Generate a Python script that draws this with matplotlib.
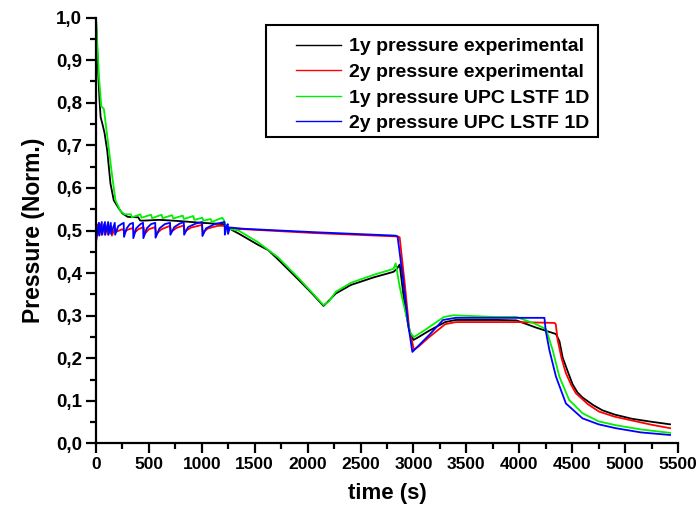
import matplotlib
matplotlib.use("Agg")
import matplotlib.pyplot as plt
from matplotlib.ticker import MultipleLocator, FuncFormatter
from matplotlib.patches import Rectangle

# ---- data ----
t_1y_exp = [0, 15, 35, 44, 59, 80, 106, 137, 168, 215, 250, 300, 400, 415, 430, 600, 800, 1000,
            1209, 1238, 1286, 1347, 1534, 1627, 1721, 1908, 2050, 2150, 2200, 2266, 2407, 2625,
            2812, 2843, 2870, 2890, 2920, 2960, 3000, 3050, 3150, 3300, 3400, 3800, 3973, 4160,
            4347, 4380, 4410, 4460, 4504, 4550, 4598, 4700, 4785, 4900, 5066, 5250, 5425]
p_1y_exp = [1.0, 0.90, 0.80, 0.766, 0.752, 0.73, 0.688, 0.610, 0.571, 0.552, 0.540, 0.532, 0.531,
            0.524, 0.523, 0.525, 0.522, 0.518, 0.515, 0.510, 0.501, 0.493, 0.466, 0.454, 0.432,
            0.386, 0.350, 0.323, 0.335, 0.352, 0.372, 0.390, 0.403, 0.410, 0.420, 0.380, 0.320,
            0.265, 0.243, 0.250, 0.265, 0.285, 0.290, 0.290, 0.289, 0.272, 0.257, 0.240, 0.202,
            0.168, 0.139, 0.120, 0.108, 0.090, 0.078, 0.068, 0.058, 0.051, 0.045]

t_2y_exp = [0, 12, 22, 27, 48, 53, 78, 83, 110, 115, 145, 150, 180, 200, 250, 270, 300,
            350, 362, 400, 450, 460, 500, 560, 570, 620, 700, 710, 760, 830, 840, 900, 1000, 1010,
            1060, 1150, 1220, 1260, 1400, 2067, 2850, 2870, 2920, 2960, 3005, 3050, 3150, 3300,
            3400, 4000, 4335, 4345, 4363, 4400, 4441, 4490, 4535, 4650, 4753, 4900, 5066, 5250, 5425]
p_2y_exp = [0.470, 0.500, 0.515, 0.490, 0.515, 0.490, 0.515, 0.490, 0.513, 0.490,
            0.510, 0.488, 0.505, 0.498, 0.503, 0.497, 0.502, 0.506, 0.494, 0.503, 0.508, 0.492,
            0.503, 0.508, 0.492, 0.503, 0.511, 0.497, 0.506, 0.512, 0.498, 0.507, 0.513, 0.496,
            0.505, 0.511, 0.511, 0.504, 0.503, 0.494, 0.486, 0.484, 0.370, 0.270, 0.220, 0.228,
            0.250, 0.280, 0.285, 0.285, 0.283, 0.280, 0.243, 0.200, 0.165, 0.138, 0.118, 0.092,
            0.075, 0.063, 0.054, 0.044, 0.036]

t_1y_upc = [0, 28, 50, 75, 106, 153, 184, 230, 270, 330, 340, 420, 430, 520, 530, 620, 630, 720,
            730, 820, 830, 920, 930, 1005, 1015, 1084, 1094, 1193, 1210, 1225, 1347, 1534, 1721,
            1908, 2050, 2150, 2200, 2266, 2407, 2625, 2812, 2832, 2870, 2920, 2972, 3005, 3100,
            3200, 3288, 3379, 3767, 3973, 4160, 4254, 4316, 4379, 4472, 4598, 4750, 4910, 5150, 5425]
p_1y_upc = [1.0, 0.862, 0.792, 0.785, 0.722, 0.628, 0.571, 0.546, 0.538, 0.538, 0.531, 0.538,
            0.530, 0.537, 0.529, 0.537, 0.529, 0.536, 0.528, 0.535, 0.527, 0.534, 0.525, 0.530,
            0.523, 0.527, 0.520, 0.530, 0.524, 0.505, 0.500, 0.472, 0.437, 0.390, 0.352, 0.325,
            0.333, 0.356, 0.377, 0.396, 0.410, 0.423, 0.368, 0.313, 0.259, 0.250, 0.265, 0.282,
            0.297, 0.301, 0.297, 0.297, 0.280, 0.268, 0.219, 0.157, 0.102, 0.071, 0.052, 0.043,
            0.033, 0.025]

t_2y_upc = [0, 15, 28, 31, 55, 58, 85, 88, 115, 118, 140, 143, 178, 181, 210,
            240, 262, 265, 290, 320, 350, 353, 380, 420, 445, 448, 480, 520, 560, 563, 600, 650,
            700, 703, 740, 790, 830, 833, 870, 940, 1003, 1006, 1040, 1120, 1215, 1218, 1235,
            1245, 1248, 1265, 1400, 2067, 2828, 2850, 2900, 2950, 2990, 3050, 3150, 3280, 3400,
            4238, 4250, 4285, 4347, 4441, 4598, 4750, 4910, 5150, 5425]
p_2y_upc = [0.475, 0.500, 0.518, 0.488, 0.520, 0.490, 0.520, 0.490, 0.520, 0.490,
            0.518, 0.492, 0.518, 0.490, 0.510, 0.515, 0.518, 0.485, 0.505, 0.515,
            0.518, 0.482, 0.505, 0.515, 0.518, 0.482, 0.505, 0.515, 0.518, 0.483, 0.505, 0.515,
            0.518, 0.490, 0.508, 0.516, 0.520, 0.490, 0.508, 0.516, 0.520, 0.487, 0.505, 0.515,
            0.520, 0.490, 0.510, 0.515, 0.492, 0.507, 0.504, 0.496, 0.488, 0.486, 0.390, 0.280,
            0.215, 0.230, 0.255, 0.290, 0.295, 0.295, 0.265, 0.219, 0.157, 0.094, 0.059, 0.045,
            0.036, 0.026, 0.020]

labels = ["1y pressure experimental", "2y pressure experimental",
          "1y pressure UPC LSTF 1D", "2y pressure UPC LSTF 1D"]
colors = ["#000000", "#ff0000", "#00f000", "#0000ff"]

plt.rcParams['font.family'] = ['Liberation Sans', 'DejaVu Sans']

fig = plt.figure(figsize=(6.97, 5.12), dpi=100)
ax = fig.add_axes([0.1377, 0.1338, 0.8350, 0.832])

series = [(t_1y_exp, p_1y_exp), (t_2y_exp, p_2y_exp), (t_1y_upc, p_1y_upc), (t_2y_upc, p_2y_upc)]
for (t, p), c, lab in zip(series, colors, labels):
    ax.plot(t, p, color=c, lw=1.3, label=lab)

ax.set_xlim(0, 5500)
ax.set_ylim(0, 1.0)
ax.xaxis.set_major_locator(MultipleLocator(500))
ax.xaxis.set_minor_locator(MultipleLocator(250))
ax.yaxis.set_major_locator(MultipleLocator(0.1))
ax.yaxis.set_minor_locator(MultipleLocator(0.05))
ax.yaxis.set_major_formatter(FuncFormatter(lambda v, pos: f"{v:.1f}".replace(".", ",")))

for s in ["top", "right"]:
    ax.spines[s].set_visible(False)
for s in ["left", "bottom"]:
    ax.spines[s].set_linewidth(1.6)
ax.tick_params(which="major", direction="out", length=7, width=1.6, pad=3)
ax.tick_params(axis="x", which="major", labelsize=12.5)
ax.tick_params(axis="y", which="major", labelsize=13.5)
ax.tick_params(which="minor", direction="out", length=4, width=1.6)
for lbl in ax.get_xticklabels() + ax.get_yticklabels():
    lbl.set_fontweight("bold")

ax.set_xlabel("time (s)", fontsize=16, fontweight="bold", labelpad=8)
ax.set_ylabel("Pressure (Norm.)", fontsize=16.5, fontweight="bold", labelpad=8)

leg = ax.legend(loc="upper left", bbox_to_anchor=(0.3305, 0.9706), borderaxespad=0,
                prop={"size": 14, "weight": "bold"}, frameon=False,
                handlelength=2.3, handletextpad=0.4, labelspacing=0.41, borderpad=0.4)
for line in leg.get_lines():
    line.set_linewidth(1.0)

ax.add_patch(Rectangle((0.2928, 0.7191), 0.570, 0.2628, transform=ax.transAxes,
                       fill=False, edgecolor="black", linewidth=1.5, zorder=5, clip_on=False))

fig.savefig("out.png", dpi=100)
